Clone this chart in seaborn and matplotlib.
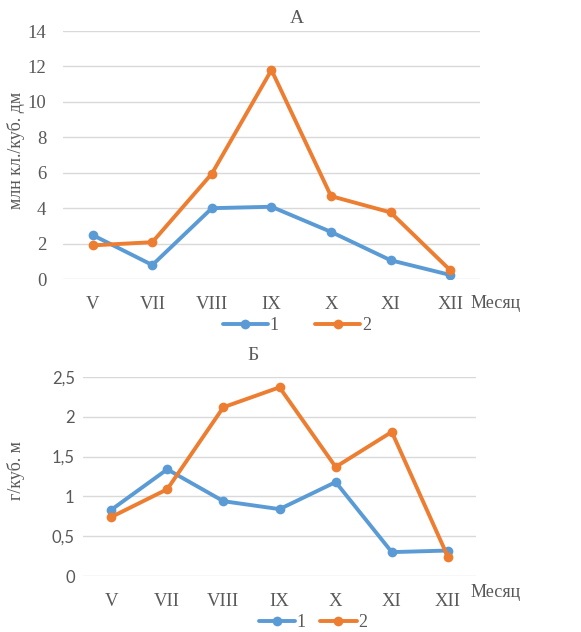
import pandas as pd
import matplotlib
matplotlib.use('Agg')
import matplotlib.pyplot as plt
import seaborn as sns

# месяцы и значения по двум станциям
months = ['V', 'VII', 'VIII', 'IX', 'X', 'XI', 'XII']
a_series1 = [2.48, 0.79, 4.0, 4.08, 2.66, 1.06, 0.23]
a_series2 = [1.9, 2.08, 5.95, 11.8, 4.68, 3.76, 0.5]
b_series1 = [0.83, 1.34, 0.94, 0.84, 1.18, 0.3, 0.32]
b_series2 = [0.74, 1.09, 2.12, 2.37, 1.37, 1.81, 0.24]
a_yticks = [0, 2, 4, 6, 8, 10, 12, 14]
b_yticks = [0, 0.5, 1, 1.5, 2, 2.5]
b_ytick_labels = ['0', '0,5', '1', '1,5', '2', '2,5']

sns.set_style('white')
plt.rcParams['font.family'] = ['Liberation Serif', 'DejaVu Serif']

palette = {'1': '#5B9BD5', '2': '#ED7D31'}
grey = '#595959'


def make_df(s1, s2):
    df1 = pd.DataFrame({'month': months, 'val': s1, 'series': '1'})
    df2 = pd.DataFrame({'month': months, 'val': s2, 'series': '2'})
    return pd.concat([df1, df2], ignore_index=True)


fig = plt.figure(figsize=(5.81, 6.32), dpi=100)
ax1 = fig.add_axes([0.1084, 0.5585, 0.7177, 0.3924])
ax2 = fig.add_axes([0.1429, 0.0886, 0.6764, 0.3149])

sns.lineplot(data=make_df(a_series1, a_series2), x='month', y='val', hue='series',
             palette=palette, marker='o', markersize=7, markeredgewidth=0,
             linewidth=2.8, ax=ax1, legend=True)
sns.lineplot(data=make_df(b_series1, b_series2), x='month', y='val', hue='series',
             palette=palette, marker='o', markersize=7, markeredgewidth=0,
             linewidth=2.8, ax=ax2, legend=True)

# верхний график
ax1.set_xlim(-0.5, 6.5)
ax1.set_ylim(0, 14)
ax1.set_yticks(a_yticks)
ax1.set_yticklabels([str(t) for t in a_yticks])
ax1.set_xlabel('')
ax1.set_ylabel('млн кл./куб. дм', fontsize=13, color=grey)
ax1.yaxis.set_label_coords(-0.092, 0.52)
ax1.tick_params(axis='both', length=0, labelsize=13.5, colors=grey)
ax1.tick_params(axis='x', pad=12)
ax1.tick_params(axis='y', pad=12)

# нижний график
ax2.set_xlim(-0.5, 6.5)
ax2.set_ylim(0, 2.5)
ax2.set_yticks(b_yticks)
ax2.set_yticklabels(b_ytick_labels, family='Lato')
ax2.set_xlabel('')
ax2.set_ylabel('г/куб. м', fontsize=13, color=grey)
ax2.yaxis.set_label_coords(-0.148, 0.53)
ax2.tick_params(axis='y', length=0, labelsize=12, colors=grey, pad=6)
ax2.tick_params(axis='x', length=0, labelsize=13.5, colors=grey, pad=12)

for ax in (ax1, ax2):
    ax.grid(axis='y', color='#D9D9D9', linewidth=1)
    ax.grid(axis='x', visible=False)
    sns.despine(ax=ax, left=True, bottom=True)
    ax.set_axisbelow(True)

ax1.legend(loc='center', bbox_to_anchor=(0.511, 0.485), bbox_transform=fig.transFigure,
           ncol=2, frameon=False, fontsize=13, handlelength=2.5, handletextpad=0.1,
           columnspacing=2.0, labelcolor=grey)
ax2.legend(loc='center', bbox_to_anchor=(0.539, 0.015), bbox_transform=fig.transFigure,
           ncol=2, frameon=False, fontsize=13, handlelength=2.0, handletextpad=0.1,
           columnspacing=0.8, labelcolor=grey)

fig.text(0.511, 0.97, 'А', ha='center', va='center', fontsize=14, color=grey)
fig.text(0.435, 0.437, 'Б', ha='center', va='center', fontsize=14, color=grey)
fig.text(0.81, 0.52, 'Месяц', ha='left', va='center', fontsize=13, color=grey)
fig.text(0.81, 0.063, 'Месяц', ha='left', va='center', fontsize=13, color=grey)

fig.savefig('out.png', dpi=100)
